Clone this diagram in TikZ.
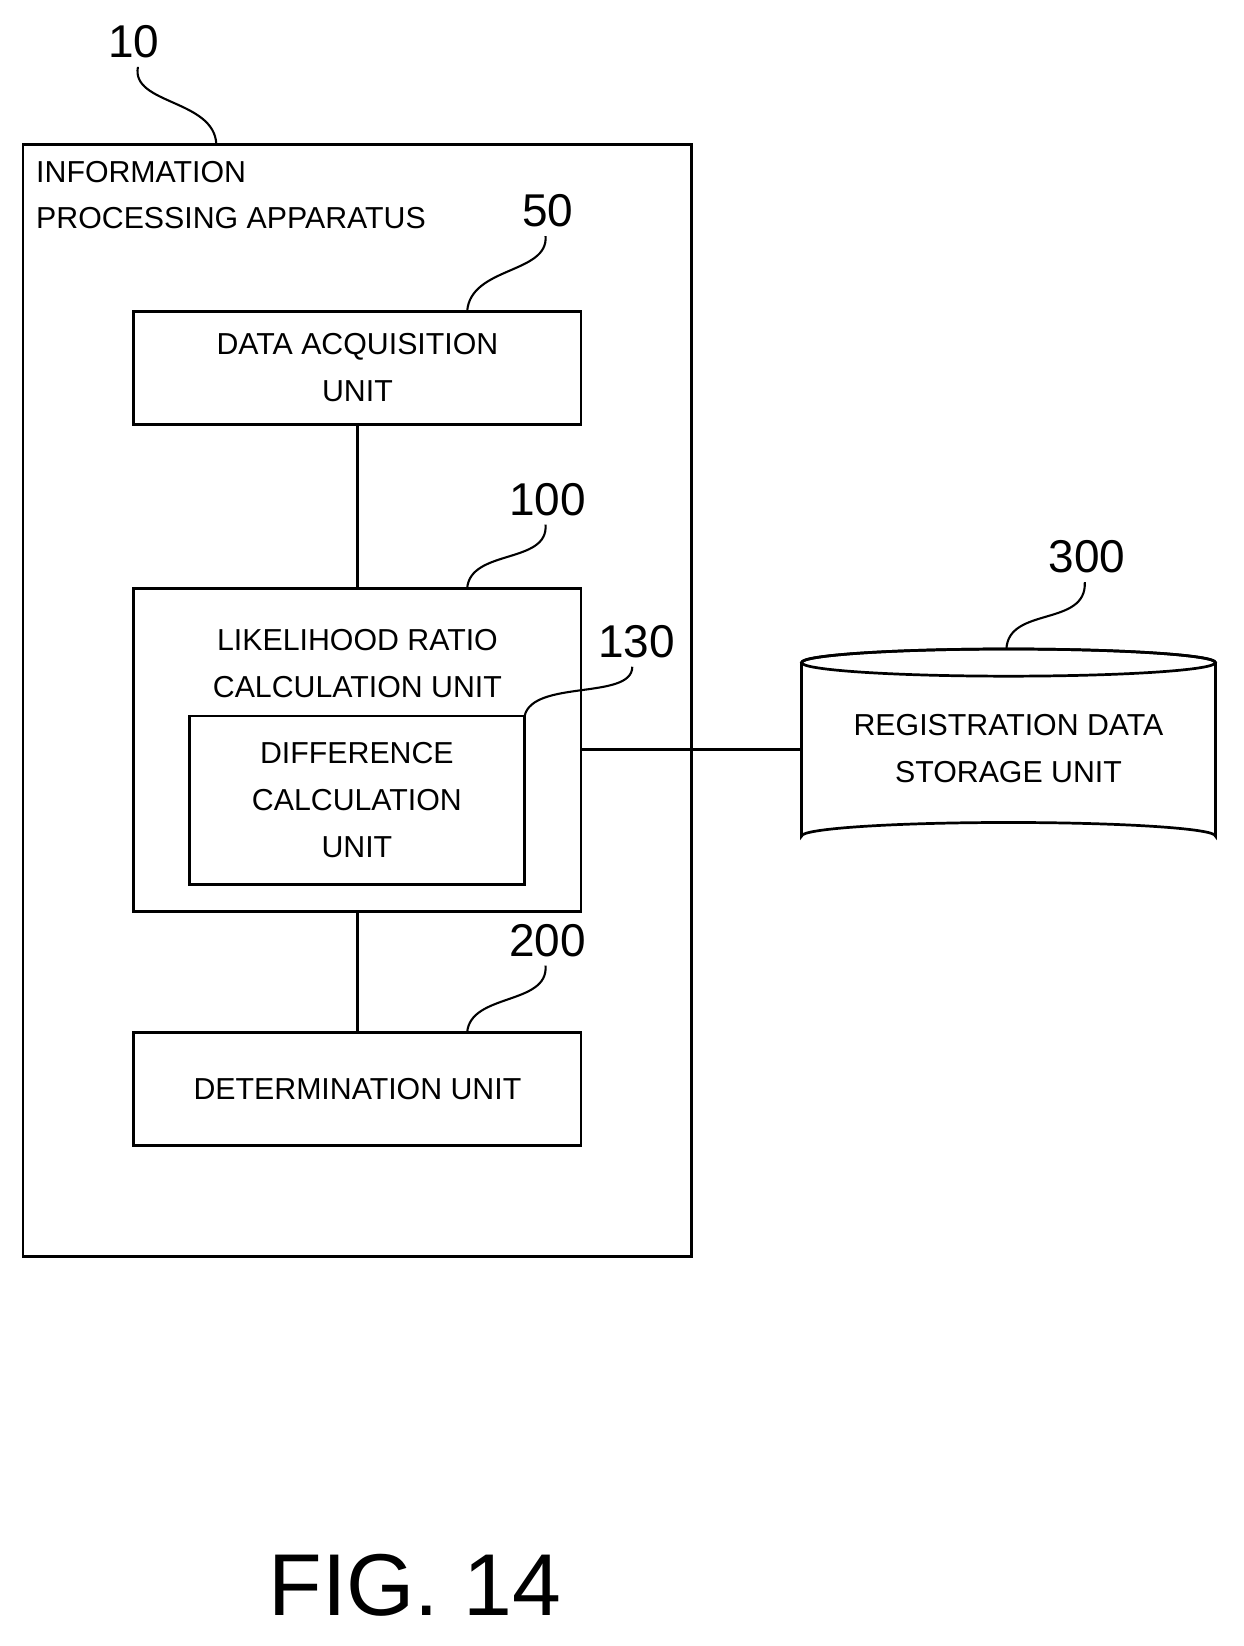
\documentclass[tikz,border=0pt]{standalone}
\usepackage{fontspec}
\setmainfont{Liberation Sans}
\usetikzlibrary{positioning}
\begin{document}
\begin{tikzpicture}[x=1pt,y=-1pt,line width=2.6pt,
unit/.style={draw,rectangle,align=center,font=\fontsize{29}{45}\selectfont},
lbl/.style={font=\fontsize{44}{44}\selectfont},
lead/.style={line width=2pt}]
\useasboundingbox (0,0) rectangle (1190,1575);

% outer apparatus
\draw (22,138) rectangle (662,1202);
\node[anchor=north west,align=left,font=\fontsize{29}{44}\selectfont] (ipa) at (30,150) {INFORMATION\\PROCESSING APPARATUS};
\node[lbl] (n10) at (128,40) {10};
\draw[lead] (132,64) .. controls (125,100) and (205,95) .. (207,138);

% units
\node[unit,minimum width=428,minimum height=108] (acq) at (342,352) {DATA ACQUISITION\\UNIT};
\node[lbl] (n50) at (524,202) {50};
\draw[lead] (522,226) .. controls (525,262) and (450,255) .. (447,298);

\node[unit,draw=none] (lrt) at (342,635) {LIKELIHOOD RATIO\\CALCULATION UNIT};
\draw (128,563) rectangle (556,872);
\coordinate (lrtop) at (342,563);
\coordinate (lrbot) at (342,872);
\coordinate (lrr) at (556,717);
\node[lbl] (n100) at (524,478) {100};
\draw[lead] (522,502) .. controls (525,540) and (450,525) .. (447,563);

\node[unit,minimum width=321,minimum height=161] (diff) at (341.5,765.5) {DIFFERENCE\\CALCULATION\\UNIT};
\node[lbl] (n130) at (609,614) {130};
\draw[lead] (605,638) .. controls (605,670) and (510,650) .. (502,685);

\node[unit,minimum width=428,minimum height=108] (det) at (342,1042) {DETERMINATION UNIT};
\node[lbl] (n200) at (524,900) {200};
\draw[lead] (522,924) .. controls (525,962) and (450,950) .. (447,988);

\draw (acq.south) -- (lrtop);
\draw (lrbot) -- (det.north);

% storage cylinder
\draw (767,634) arc[start angle=180,end angle=360,x radius=198,y radius=13]
      -- (1163,800) arc[start angle=0,end angle=-180,x radius=198,y radius=13] -- cycle;
\draw (965,634) ellipse[x radius=198,y radius=13];
\coordinate (cyl) at (767,717);
\node[unit,draw=none] (reg) at (965,716) {REGISTRATION DATA\\STORAGE UNIT};
\node[lbl] (n300) at (1040,533) {300};
\draw[lead] (1038,557) .. controls (1040,600) and (965,580) .. (963,621);

\draw (lrr) -- (cyl);

\node[font=\fontsize{84}{84}\selectfont] (fig) at (397,1517) {FIG. 14};
\end{tikzpicture}
\end{document}
